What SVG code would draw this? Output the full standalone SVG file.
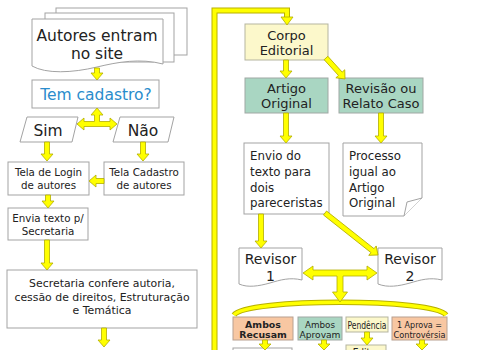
<svg xmlns="http://www.w3.org/2000/svg" width="494" height="350" viewBox="0 0 494 350">
<style>
.box{fill:#fff;stroke:#a3a3a3;stroke-width:1}
.yel{fill:#fcf8cb;stroke:#b5b5a0;stroke-width:1}
.grn{fill:#a9d6c2;stroke:#a0a8a4;stroke-width:1}
.org{fill:#f8c7a2;stroke:#b8a090;stroke-width:1}
.arr{fill:#ffff00;stroke:#b3ad00;stroke-width:0.8;stroke-linejoin:round}
.t{font-family:"DejaVu Sans",Verdana,sans-serif;fill:#222;text-anchor:middle}
.l{font-family:"DejaVu Sans",Verdana,sans-serif;fill:#222}
.c{font-family:"DejaVu Sans Condensed","DejaVu Sans",sans-serif;fill:#222;text-anchor:middle}
</style>
<rect width="494" height="350" fill="#fff"/>

<g id="autores">
  <rect class="box" x="56" y="8" width="131" height="47"/>
  <rect class="box" x="45" y="13" width="129" height="49"/>
  <path class="box" d="M32,19 H163 V64 C140,58 118,62 97,67 C72,73 46,74 32,66 Z"/>
  <text class="t" x="97" y="41" font-size="15.5">Autores entram</text>
  <text class="t" x="97" y="59" font-size="15.5">no site</text>
</g>
<g id="cadastro">
  <rect class="box" x="32" y="80" width="127" height="28"/>
  <text class="t" x="96" y="100" font-size="15.5" style="fill:#2a8ccc">Tem cadastro?</text>
</g>
<g id="sim">
  <polygon class="box" points="27,117 78,117 72,142 20,142"/>
  <text class="t" x="48" y="136" font-size="15.5">Sim</text>
</g>
<g id="nao">
  <polygon class="box" points="120,117 174,117 168,142 113,142"/>
  <text class="t" x="143" y="136" font-size="15.5">Não</text>
</g>
<g id="login">
  <rect class="box" x="8" y="162" width="81" height="33"/>
  <text class="t" x="48.5" y="176" font-size="10.3">Tela de Login</text>
  <text class="t" x="48.5" y="189" font-size="10.3">de autores</text>
</g>
<g id="telacadastro">
  <rect class="box" x="104" y="162" width="80" height="33"/>
  <text class="t" x="144" y="176" font-size="10.3">Tela Cadastro</text>
  <text class="t" x="144" y="189" font-size="10.3">de autores</text>
</g>
<g id="envia">
  <rect class="box" x="8" y="208" width="80" height="32"/>
  <text class="t" x="48" y="222" font-size="10.3">Envia texto p/</text>
  <text class="t" x="48" y="235" font-size="10.3">Secretaria</text>
</g>
<g id="secretaria">
  <rect class="box" x="7" y="270" width="190" height="58"/>
  <text class="t" x="102" y="287" font-size="10.9">Secretaria confere autoria,</text>
  <text class="t" x="102" y="301" font-size="10.9">cessão de direitos, Estruturação</text>
  <text class="t" x="102" y="314" font-size="10.9">e Temática</text>
</g>

<g id="corpo">
  <rect class="yel" x="245" y="24" width="83" height="36"/>
  <text class="t" x="286.5" y="40" font-size="13">Corpo</text>
  <text class="t" x="286.5" y="55" font-size="13">Editorial</text>
</g>
<g id="artigo">
  <rect class="grn" x="245" y="78" width="83" height="35"/>
  <text class="t" x="286.5" y="93" font-size="13">Artigo</text>
  <text class="t" x="286.5" y="108" font-size="13">Original</text>
</g>
<g id="revisao">
  <rect class="grn" x="339" y="78" width="84" height="35"/>
  <text class="t" x="381" y="93" font-size="13">Revisão ou</text>
  <text class="t" x="381" y="108" font-size="13">Relato Caso</text>
</g>
<g id="envio">
  <rect class="box" x="244" y="143" width="85" height="71"/>
  <text class="l" x="250" y="160" font-size="11.8">Envio do</text>
  <text class="l" x="250" y="176" font-size="11.8">texto para</text>
  <text class="l" x="250" y="192" font-size="11.8">dois</text>
  <text class="l" x="250" y="207" font-size="11.8">pareceristas</text>
</g>
<g id="processo">
  <path class="box" d="M343,143 H422 V198 L404,216 H343 Z"/>
  <path class="box" d="M404,216 L407,202 L422,198" fill="none"/>
  <text class="l" x="349" y="160" font-size="11.8">Processo</text>
  <text class="l" x="349" y="176" font-size="11.8">igual ao</text>
  <text class="l" x="349" y="192" font-size="11.8">Artigo</text>
  <text class="l" x="349" y="207" font-size="11.8">Original</text>
</g>
<g id="revisor1">
  <path class="box" d="M239,248 H302 V280 C290,277 280,280 270,283 C259,286 248,288 239,284 Z"/>
  <text class="t" x="270.5" y="264" font-size="14">Revisor</text>
  <text class="t" x="270.5" y="281" font-size="14">1</text>
</g>
<g id="revisor2">
  <path class="box" d="M378,248 H442 V280 C430,277 420,280 410,283 C399,286 388,288 378,284 Z"/>
  <text class="t" x="410" y="264" font-size="14">Revisor</text>
  <text class="t" x="410" y="281" font-size="14">2</text>
</g>
<g id="recusam">
  <rect class="org" x="233" y="317" width="60" height="23"/>
  <text class="t" x="263" y="327.5" font-size="9.4" font-weight="bold">Ambos</text>
  <text class="t" x="263" y="337.5" font-size="9.4" font-weight="bold">Recusam</text>
</g>
<g id="aprovam">
  <rect class="grn" x="298" y="317" width="44" height="23"/>
  <text class="c" x="320" y="327.5" font-size="9.4" textLength="30" lengthAdjust="spacingAndGlyphs">Ambos</text>
  <text class="c" x="320" y="337.5" font-size="9.4" textLength="41" lengthAdjust="spacingAndGlyphs">Aprovam</text>
</g>
<g id="pendencia">
  <rect class="yel" x="346" y="317" width="42" height="15"/>
  <text class="c" x="367" y="328.5" font-size="10" textLength="39" lengthAdjust="spacingAndGlyphs">Pendência</text>
</g>
<g id="controversia">
  <rect class="org" x="392" y="317" width="55" height="23"/>
  <text class="c" x="419.5" y="327.5" font-size="9.4" textLength="45" lengthAdjust="spacingAndGlyphs">1 Aprova =</text>
  <text class="c" x="419.5" y="337.5" font-size="9.4" textLength="52" lengthAdjust="spacingAndGlyphs">Controvérsia</text>
</g>
<g id="proximo">
  <rect class="box" x="233" y="348" width="59" height="12"/>
</g>
<g id="editor">
  <rect class="yel" x="346" y="345" width="40" height="14"/>
  <text class="c" x="366" y="356" font-size="10">Editor</text>
</g>

<g id="connectors">
  <path d="M214.5,352 V10.5 H287 V18" fill="none" stroke="#b8b000" stroke-width="6"/>
  <path d="M214.5,352 V10.5 H287 V18" fill="none" stroke="#ffff00" stroke-width="4"/>
  <polygon class="arr" points="281,17 293,17 287,25"/>
  <path d="M234,315 C245,298 435,298 446,315" fill="none" stroke="#b8b000" stroke-width="5.5"/>
  <path d="M234,315 C245,298 435,298 446,315" fill="none" stroke="#ffff00" stroke-width="3.5"/>

  <polygon class="arr" points="94.5,68 99.5,68 99.5,73 103,73 97,80 91,73 94.5,73"/>
  <polygon class="arr" points="97,108 103,115 99.5,115 99.5,121.5 110,121.5 110,118 117,124 110,130 110,126.5 84,126.5 84,130 77,124 84,118 84,121.5 94.5,121.5 94.5,115 91,115"/>
  <polygon class="arr" points="44.5,142 49.5,142 49.5,154 53,154 47,161 41,154 44.5,154"/>
  <polygon class="arr" points="140.5,142 145.5,142 145.5,154 149,154 143,161 137,154 140.5,154"/>
  <polygon class="arr" points="104,178.5 104,183.5 96,183.5 96,187 89,181 96,175 96,178.5"/>
  <polygon class="arr" points="45.5,195 50.5,195 50.5,201 54,201 48,208 42,201 45.5,201"/>
  <polygon class="arr" points="44.5,240 49.5,240 49.5,263 53,263 47,270 41,263 44.5,263"/>
  <polygon class="arr" points="101.5,328 106.5,328 106.5,340 110,340 104,347 98,340 101.5,340"/>

  <polygon class="arr" points="283.5,60 288.5,60 288.5,71 292,71 286,78 280,71 283.5,71"/>
  <polygon class="arr" transform="translate(326,58) rotate(-42.2)" points="-2.5,0 2.5,0 2.5,21.3 6,21.3 0,28.3 -6,21.3 -2.5,21.3"/>
  <polygon class="arr" points="283.5,113 288.5,113 288.5,136 292,136 286,143 280,136 283.5,136"/>
  <polygon class="arr" points="378.5,113 383.5,113 383.5,136 387,136 381,143 375,136 378.5,136"/>
  <polygon class="arr" points="258.5,214 263.5,214 263.5,241 267,241 261,248 255,241 258.5,241"/>
  <polygon class="arr" transform="translate(325,213) rotate(-51.6)" points="-2.5,0 2.5,0 2.5,60.6 6,60.6 0,67.6 -6,60.6 -2.5,60.6"/>
  <polygon class="arr" points="303,273 313,266 313,270 367,270 367,266 377,273 367,280 367,276 343,276 343,292 347.5,292 340,302 332.5,292 337,292 337,276 313,276 313,280"/>

  <polygon class="arr" points="262.5,340 267.5,340 267.5,344 271,344 265,350 259,344 262.5,344"/>
  <polygon class="arr" points="321.5,340 326.5,340 326.5,344 330,344 324,350 318,344 321.5,344"/>
  <polygon class="arr" points="364.5,332 369.5,332 369.5,338 373,338 367,345 361,338 364.5,338"/>
  <polygon class="arr" points="419.5,340 424.5,340 424.5,344 428,344 422,350 416,344 419.5,344"/>
</g>
</svg>
